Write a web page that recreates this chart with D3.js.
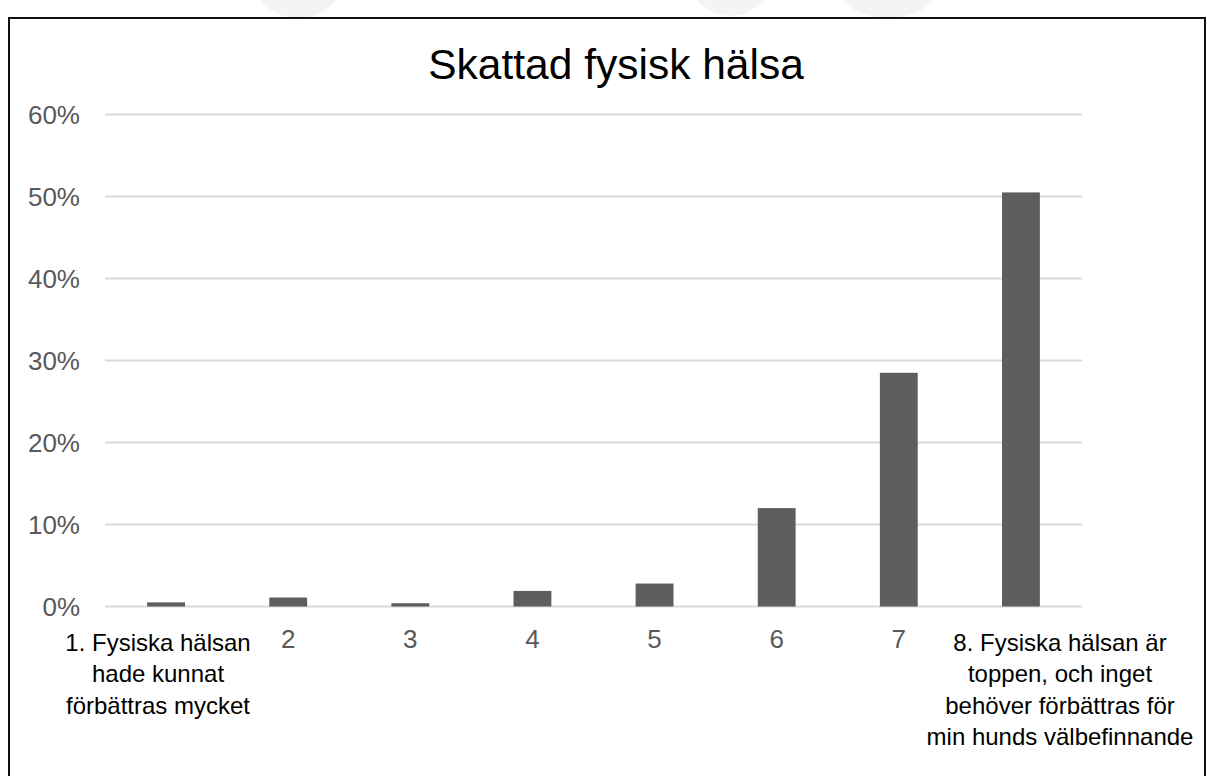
<!DOCTYPE html>
<html>
<head>
<meta charset="utf-8">
<script src="https://cdn.jsdelivr.net/npm/d3@7"></script>
<style>
  html, body { margin: 0; padding: 0; background: #fff; }
  svg { display: block; font-family: "Liberation Sans", Arial, sans-serif; }
</style>
</head>
<body>
<svg id="chart" width="1207" height="776"></svg>
<script>
// Rating scale 1–8, share of respondents per step
const categories = ["1", "2", "3", "4", "5", "6", "7", "8"];
const shares = [0.005, 0.011, 0.004, 0.019, 0.028, 0.120, 0.285, 0.505];
const yTicks = [0, 0.1, 0.2, 0.3, 0.4, 0.5, 0.6];
const tickLabels = ["", "2", "3", "4", "5", "6", "7", ""];
const firstLabelLines = ["1. Fysiska hälsan", "hade kunnat", "förbättras mycket"];
const lastLabelLines = ["8. Fysiska hälsan är", "toppen, och inget", "behöver förbättras för", "min hunds välbefinnande"];
const title = "Skattad fysisk hälsa";

const svg = d3.select("#chart");
const W = 1207, H = 776;
const plot = { left: 105, right: 1082, top: 114.5, bottom: 606.5 };

svg.append("rect").attr("width", W).attr("height", H).attr("fill", "#fff");

// faint background logo shapes above the frame
const wm = svg.append("g").attr("fill", "#f4f4f4");
wm.append("ellipse").attr("cx", 298).attr("cy", -22).attr("rx", 46).attr("ry", 40);
wm.append("ellipse").attr("cx", 730).attr("cy", -26).attr("rx", 42).attr("ry", 42);
wm.append("ellipse").attr("cx", 888).attr("cy", -22).attr("rx", 55).attr("ry", 40);

// chart frame
svg.append("rect")
  .attr("x", 9).attr("y", 18)
  .attr("width", 1196).attr("height", 800)
  .attr("fill", "#fff")
  .attr("stroke", "#111").attr("stroke-width", 2);

const x = d3.scaleBand()
  .domain(categories)
  .range([plot.left, plot.right])
  .paddingInner(0.69)
  .paddingOuter(0.345);

const y = d3.scaleLinear()
  .domain([0, 0.6])
  .range([plot.bottom, plot.top]);

// title
svg.append("text")
  .attr("x", 616).attr("y", 79)
  .attr("text-anchor", "middle")
  .attr("font-size", 42.5)
  .attr("fill", "#000")
  .text(title);

// horizontal gridlines
svg.append("g")
  .selectAll("line")
  .data(yTicks)
  .join("line")
  .attr("x1", plot.left).attr("x2", plot.right)
  .attr("y1", d => y(d)).attr("y2", d => y(d))
  .attr("stroke", "#d9d9d9").attr("stroke-width", 2);

// y-axis labels
const fmt = d3.format(".0%");
svg.append("g")
  .selectAll("text")
  .data(yTicks)
  .join("text")
  .attr("x", 80)
  .attr("y", d => y(d))
  .attr("dy", "0.35em")
  .attr("text-anchor", "end")
  .attr("font-size", 26)
  .attr("fill", "#595959")
  .text(d => fmt(d));

// bars
svg.append("g")
  .selectAll("rect")
  .data(categories.map((c, i) => ({ c, v: shares[i] })))
  .join("rect")
  .attr("x", d => x(d.c))
  .attr("width", x.bandwidth())
  .attr("y", d => y(d.v))
  .attr("height", d => y(0) - y(d.v))
  .attr("fill", "#5e5e5e");

// numeric category labels
svg.append("g")
  .selectAll("text")
  .data(categories.map((c, i) => ({ c, t: tickLabels[i] })).filter(d => d.t))
  .join("text")
  .attr("x", d => x(d.c) + x.bandwidth() / 2)
  .attr("y", 648)
  .attr("text-anchor", "middle")
  .attr("font-size", 26)
  .attr("fill", "#595959")
  .text(d => d.t);

// wrapped end-point labels
function multiline(lines, cx) {
  svg.append("g")
    .selectAll("text")
    .data(lines)
    .join("text")
    .attr("x", cx)
    .attr("y", (d, i) => 651 + i * 31.3)
    .attr("text-anchor", "middle")
    .attr("font-size", 24)
    .attr("fill", "#000")
    .text(d => d);
}
multiline(firstLabelLines, 158);
multiline(lastLabelLines, 1060);
</script>
</body>
</html>
